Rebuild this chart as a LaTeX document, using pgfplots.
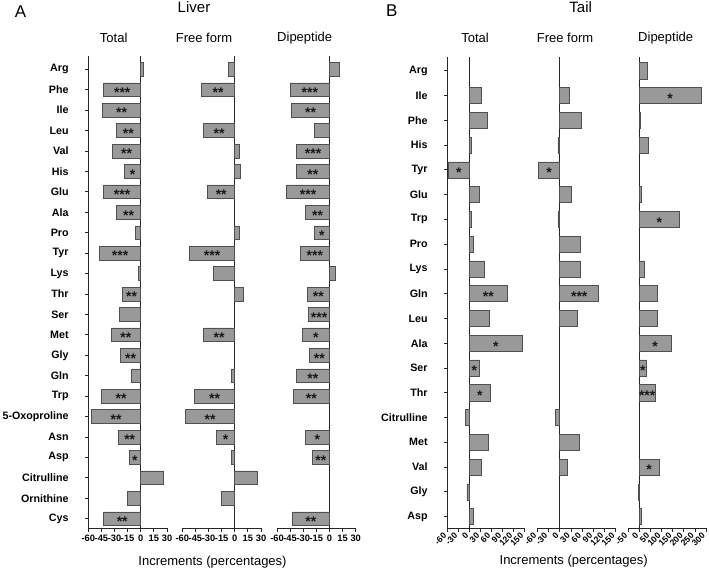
\documentclass[border=0pt]{standalone}
\usepackage{fontspec}
\setmainfont{Liberation Sans}
\usepackage{pgfplots}
\pgfplotsset{compat=1.18}
\definecolor{barfill}{HTML}{999999}
\definecolor{baredge}{HTML}{505050}
\definecolor{axcol}{HTML}{262626}
\newcommand{\fs}[1]{\fontsize{#1}{#1}\selectfont}
\pgfplotsset{
  panel/.style={
    scale only axis, anchor=south west,
    axis x line*=bottom, axis y line*=left,
    axis line style={axcol, line width=0.9pt},
    tick style={axcol, line width=0.8pt},
    tick align=outside, major tick length=3.5pt,
    clip=false,
    x tick label style={font=\bfseries\fs{9.3}},
    y tick label style={font=\bfseries\fs{10.7}, anchor=east, inner sep=0pt, xshift=-16pt},
    extra x ticks={0}, extra x tick labels={},
    extra x tick style={grid=major, major grid style={axcol, line width=0.9pt}},
  },
  panelA/.style={panel, width=78.7pt, height=472.3pt, ymin=-0.47, ymax=22.65,
    xmin=-60, xmax=30, xtick={-60,-45,-30,-15,0,15,30},
    xticklabels={-60,-45,-30,-15,0,15,30},
    ytick={0,...,22},
    yticklabels={Cys,Ornithine,Citrulline,Asp,Asn,5-Oxoproline,Trp,Gln,Gly,Met,Ser,Thr,Lys,Tyr,Pro,Ala,Glu,His,Val,Leu,Ile,Phe,Arg},
    bar width=0.67},
  panelB/.style={panel, width=77.7pt, height=471.6pt, ymin=-0.47, ymax=18.57,
    ytick={0,...,18},
    yticklabels={Asp,Gly,Val,Met,Citrulline,Thr,Ser,Ala,Leu,Gln,Lys,Pro,Trp,Glu,Tyr,His,Phe,Ile,Arg},
    x tick label style={rotate=45, anchor=east, font=\bfseries\fs{8.6}},
    bar width=0.65},
  noy/.style={axis y line=none},
  bars/.style={xbar, bar shift=0pt, fill=barfill, draw=baredge, line width=0.6pt},
  stars/.style={draw=none, mark=none,
    point meta=explicit symbolic, nodes near coords,
    nodes near coords style={anchor=center, font=\bfseries\fs{14}, yshift=-3pt, text=black!90}},
}
\begin{document}
\begin{tikzpicture}[x=1pt,y=1pt]
\path[use as bounding box] (0,0) rectangle (709,569);
% ---------------- Panel A : Liver ----------------
\begin{axis}[panelA, at={(88.3pt,40.7pt)}]
\addplot[bars] coordinates {(3,22) (-42.4,21) (-44,20) (-28.3,19) (-32.5,18) (-18.7,17) (-42.8,16) (-27.9,15) (-6.5,14) (-47.4,13) (-2.3,12) (-21,11) (-24.5,10) (-34,9) (-23.3,8) (-10.3,7) (-45,6) (-56.6,5) (-25.2,4) (-13.4,3) (25.2,2) (-15.3,1) (-42.4,0)};
\addplot[stars] coordinates {(-21.2,21) [***] (-22,20) [**] (-14.15,19) [**] (-16.25,18) [**] (-9.35,17) [*] (-21.4,16) [***] (-13.95,15) [**] (-23.7,13) [***] (-10.5,11) [**] (-17,9) [**] (-11.65,8) [**] (-22.5,6) [**] (-28.3,5) [**] (-12.6,4) [**] (-6.7,3) [*] (-21.2,0) [**]};
\end{axis}
\begin{axis}[panelA, noy, at={(182.3pt,40.7pt)}]
\addplot[bars] coordinates {(-7.3,22) (-38.2,21) (-35.9,19) (5.3,18) (6.5,17) (-31,16) (5.3,14) (-52,13) (-24,12) (9.2,11) (-35.9,9) (-4.2,7) (-46.2,6) (-56.6,5) (-21,4) (-4.2,3) (26,2) (-15.3,1)};
\addplot[stars] coordinates {(-19.1,21) [**] (-17.95,19) [**] (-15.5,16) [**] (-26,13) [***] (-17.95,9) [**] (-23.1,6) [**] (-28.3,5) [**] (-10.5,4) [*]};
\end{axis}
\begin{axis}[panelA, noy, at={(277.0pt,40.7pt)}]
\addplot[bars] coordinates {(11,22) (-45,21) (-43.2,20) (-17.6,19) (-37.4,18) (-38.2,17) (-48.9,16) (-27.1,15) (-17.6,14) (-33.6,13) (6.5,12) (-25.6,11) (-23.7,10) (-31.3,9) (-23.3,8) (-38.2,7) (-41.3,6) (-27.9,4) (-19.9,3) (-42.8,0)};
\addplot[stars] coordinates {(-22.5,21) [***] (-21.6,20) [**] (-18.7,18) [***] (-19.1,17) [**] (-24.45,16) [***] (-13.55,15) [**] (-8.8,14) [*] (-16.8,13) [***] (-12.8,11) [**] (-11.85,10) [***] (-15.65,9) [*] (-11.65,8) [**] (-19.1,7) [**] (-20.65,6) [**] (-13.95,4) [*] (-9.95,3) [**] (-21.4,0) [**]};
\end{axis}
% ---------------- Panel B : Tail ----------------
\begin{axis}[panelB, width=77pt, at={(447.3pt,40.7pt)}, xmin=-60, xmax=150,
  xtick={-60,-30,0,30,60,90,120,150}, xticklabels={-60,-30,0,30,60,90,120,150}]
\addplot[bars] coordinates {(32.7,17) (50,16) (5.5,15) (-57,14) (28,13) (5.5,12) (11,11) (41,10) (103.6,9) (53.6,8) (144.5,7) (27.3,6) (57.3,5) (-11,4) (51.8,3) (31.8,2) (-6.4,1) (10,0)};
\addplot[stars] coordinates {(-28.5,14) [*] (51.8,9) [**] (72.25,7) [*] (13.65,6) [*] (28.65,5) [*]};
\end{axis}
\begin{axis}[panelB, noy, width=78.4pt, at={(537.3pt,40.7pt)}, xmin=-60, xmax=150,
  xtick={-60,-30,0,30,60,90,120,150}, xticklabels={-60,-30,0,30,60,90,120,150}]
\addplot[bars] coordinates {(26,17) (59,16) (-5,15) (-57,14) (31.3,13) (-5,12) (55.5,11) (55.5,10) (104.7,9) (46.5,8) (-11.6,4) (52,3) (21.5,2)};
\addplot[stars] coordinates {(-28.5,14) [*] (52.35,9) [***]};
\end{axis}
\begin{axis}[panelB, noy, width=77.7pt, at={(628.3pt,40.7pt)}, xmin=-50, xmax=300,
  xtick={-50,0,50,100,150,200,250,300}, xticklabels={-50,0,50,100,150,200,250,300}]
\addplot[bars] coordinates {(35,18) (277,17) (3,16) (39,15) (10.6,13) (180,12) (20,10) (82,9) (82,8) (142,7) (30,6) (70,5) (88,2) (-6,1) (10.6,0)};
\addplot[stars] coordinates {(138.5,17) [*] (90,12) [*] (71,7) [*] (15,6) [*] (35,5) [***] (44,2) [*]};
\end{axis}
% ---------------- Titles ----------------
\node[font=\fs{17}] at (20.5,557.3) {A};
\node[font=\fs{17}] at (391.7,558.5) {B};
\node[font=\fs{15}] at (194,561.5) {Liver};
\node[font=\fs{15}] at (580.7,562) {Tail};
\node[font=\fs{13}] at (113.7,531.3) {Total};
\node[font=\fs{13}] at (204,531.3) {Free form};
\node[font=\fs{13}] at (304.7,531.3) {Dipeptide};
\node[font=\fs{13}] at (475,531.3) {Total};
\node[font=\fs{13}] at (565,531.3) {Free form};
\node[font=\fs{13}] at (665.7,531.3) {Dipeptide};
\node[font=\fs{13}] at (212.5,7.3) {Increments (percentages)};
\node[font=\fs{13}] at (573.7,8) {Increments (percentages)};
\end{tikzpicture}
\end{document}
